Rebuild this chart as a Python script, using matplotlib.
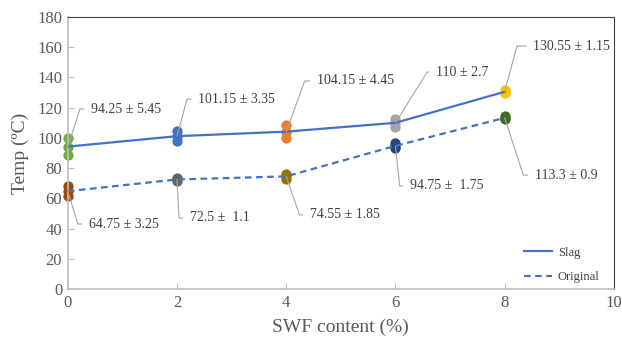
import matplotlib
matplotlib.use("Agg")
import matplotlib.pyplot as plt

plt.rcParams['font.family'] = ['Liberation Serif', 'DejaVu Serif']

# SWF content (%)
swf = [0, 2, 4, 6, 8]

# mean temperatures
slag_mean = [94.25, 101.15, 104.15, 110, 130.55]
orig_mean = [64.75, 72.5, 74.55, 94.75, 113.3]

# individual readings (low, mid, high)
slag_pts = [[88.8, 94.25, 99.7],
            [97.8, 101.15, 104.5],
            [99.7, 104.15, 108.6],
            [107.3, 110, 112.7],
            [129.4, 130.55, 131.7]]
orig_pts = [[61.5, 64.75, 68.0],
            [71.4, 72.5, 73.6],
            [72.7, 74.55, 76.4],
            [93.0, 94.75, 96.5],
            [112.4, 113.3, 114.2]]

slag_labels = ['94.25 ± 5.45', '101.15 ± 3.35', '104.15 ± 4.45', '110 ± 2.7', '130.55 ± 1.15']
orig_labels = ['64.75 ± 3.25', '72.5 ±  1.1', '74.55 ± 1.85', '94.75 ±  1.75', '113.3 ± 0.9']

# label positions (data coords) and leader angles
slag_lab_pos = [(0.42, 119.1), (2.38, 125.7), (4.56, 137.7), (6.74, 143.6), (8.52, 160.8)]
orig_lab_pos = [(0.38, 43.0), (2.23, 47.0), (4.43, 49.0), (6.26, 68.2), (8.55, 75.4)]
slag_angles = [72, 75, 70, 58, 75]
orig_angles = [-73, -87, -71, -84, -72]

slag_colors = ['#70AD47', '#4472C4', '#ED7D31', '#A5A5A5', '#FFC000']
orig_colors = ['#9E480E', '#636363', '#997300', '#264478', '#43682B']
line_c = '#4472C4'

fig = plt.figure(figsize=(6.22, 3.41), dpi=100)
ax = fig.add_axes([0.109, 0.1525, 0.878, 0.7975])

for x, pts, c in zip(swf, slag_pts, slag_colors):
    ax.scatter([x] * len(pts), pts, s=55, color=c, zorder=2, clip_on=False, linewidths=0)
for x, pts, c in zip(swf, orig_pts, orig_colors):
    ax.scatter([x] * len(pts), pts, s=55, color=c, zorder=2, clip_on=False, linewidths=0)

ax.plot(swf, slag_mean, color=line_c, lw=1.6, zorder=3, label='Slag')
ax.plot(swf, orig_mean, color=line_c, lw=1.6, ls=(0, (3, 2)), zorder=3, label='Original')

def annotate(xs, ys, labels, positions, angles):
    for x, y, t, p, a in zip(xs, ys, labels, positions, angles):
        ax.annotate(t, xy=(x, y), xytext=p, ha='left', va='center',
                    fontsize=10, color='#404040', zorder=4,
                    arrowprops=dict(arrowstyle='-', color='#A6A6A6', lw=0.8,
                                    shrinkA=3, shrinkB=0,
                                    connectionstyle=f'angle,angleA=0,angleB={a},rad=0'))

annotate(swf, slag_mean, slag_labels, slag_lab_pos, slag_angles)
annotate(swf, orig_mean, orig_labels, orig_lab_pos, orig_angles)

ax.set_xlim(0, 10)
ax.set_ylim(0, 180)
ax.set_xticks(range(0, 11, 2))
ax.set_yticks(range(0, 181, 20))

for s in ['left', 'bottom']:
    ax.spines[s].set_color('#BFBFBF')
    ax.spines[s].set_linewidth(1.2)
for s in ['top', 'right']:
    ax.spines[s].set_color('#404040')
    ax.spines[s].set_linewidth(0.8)

ax.tick_params(direction='in', length=4, color='#BFBFBF', labelsize=12,
               labelcolor='#595959', pad=4)
ax.tick_params(top=False, right=False)

ax.set_xlabel('SWF content (%)', fontsize=14, color='#595959', labelpad=6)
ax.set_ylabel('Temp (ºC)', fontsize=14, color='#595959', labelpad=6)

leg = ax.legend(loc='center left', bbox_to_anchor=(0.815, 0.088), frameon=False,
                fontsize=9, handlelength=2.2, labelspacing=1.0, handletextpad=0.5)
for t in leg.get_texts():
    t.set_color('#404040')

fig.savefig('out.png', dpi=100)
